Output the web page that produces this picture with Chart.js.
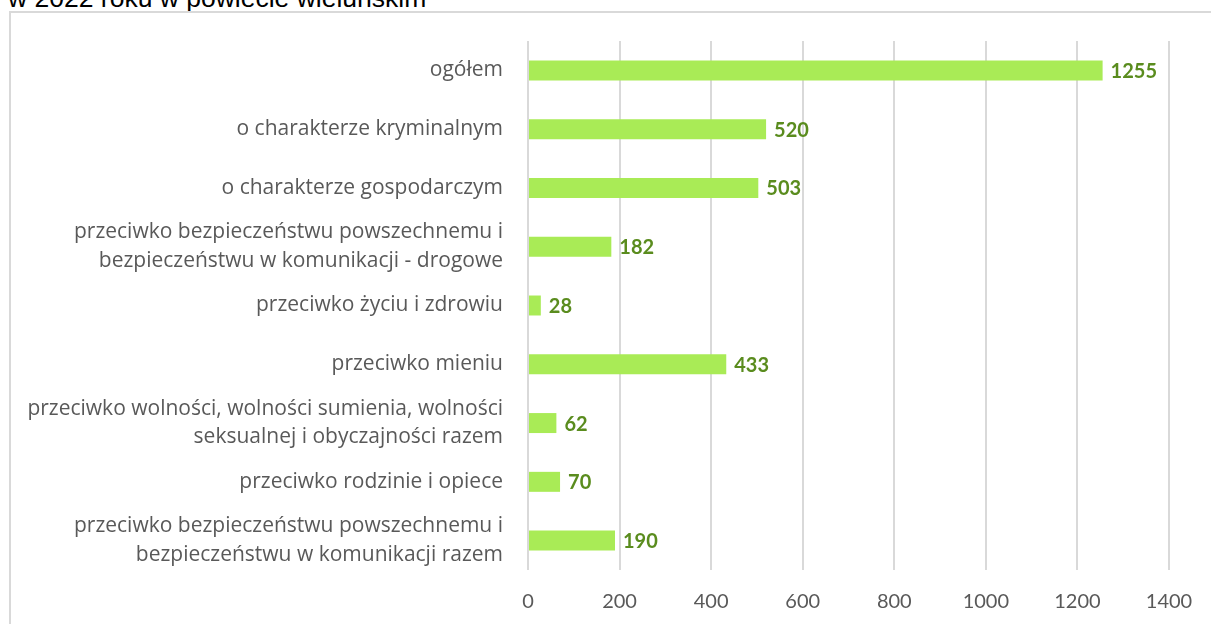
<!DOCTYPE html>
<html>
<head>
<meta charset="utf-8">
<script src="https://cdn.jsdelivr.net/npm/chart.js@4.4.1/dist/chart.umd.min.js"></script>
<style>
  html, body { margin: 0; padding: 0; background: #fff; width: 1211px; height: 624px; overflow: hidden; position: relative; }
  #frame { position: absolute; left: 9px; top: 11px; width: 1230px; height: 700px; border: 2px solid #d9d9d9; box-sizing: border-box; }
  #title { position: absolute; left: 8px; top: -17px; font-family: "Liberation Sans", Arial, sans-serif; font-size: 26.5px; color: #000; white-space: nowrap; }
  #c { position: absolute; left: 0; top: 0; }
</style>
</head>
<body>
<div id="title">w 2022 roku w powiecie wieluńskim</div>
<div id="frame"></div>
<canvas id="c" width="1211" height="624"></canvas>
<script>
const categories = [
  ["ogółem"],
  ["o charakterze kryminalnym"],
  ["o charakterze gospodarczym"],
  ["przeciwko bezpieczeństwu powszechnemu i", "bezpieczeństwu w komunikacji - drogowe"],
  ["przeciwko życiu i zdrowiu"],
  ["przeciwko mieniu"],
  ["przeciwko wolności, wolności sumienia, wolności", "seksualnej i obyczajności razem"],
  ["przeciwko rodzinie i opiece"],
  ["przeciwko bezpieczeństwu powszechnemu i", "bezpieczeństwu w komunikacji razem"]
];
const values = [1255, 520, 503, 182, 28, 433, 62, 70, 190];
const xTicks = [0, 200, 400, 600, 800, 1000, 1200, 1400];

const valueLabels = {
  id: 'valueLabels',
  afterDatasetsDraw(chart) {
    const ctx = chart.ctx;
    const meta = chart.getDatasetMeta(0);
    ctx.save();
    ctx.font = 'bold 20px Lato, "Open Sans", sans-serif';
    ctx.fillStyle = '#5a8c1e';
    ctx.textAlign = 'left';
    ctx.textBaseline = 'middle';
    meta.data.forEach((bar, i) => {
      ctx.fillText(String(values[i]), bar.x + 8, bar.y + 1);
    });
    ctx.restore();
  }
};

new Chart(document.getElementById('c'), {
  type: 'bar',
  data: {
    labels: categories,
    datasets: [{
      data: values,
      backgroundColor: '#a9eb56',
      borderWidth: 0,
      categoryPercentage: 1,
      barPercentage: 0.34
    }]
  },
  options: {
    indexAxis: 'y',
    responsive: false,
    animation: false,
    devicePixelRatio: 1,
    layout: { padding: { top: 41, right: 42, bottom: 0, left: 0 } },
    plugins: { legend: { display: false }, tooltip: { enabled: false } },
    scales: {
      x: {
        min: 0, max: 1400,
        afterBuildTicks(scale) { scale.ticks = xTicks.map(v => ({ value: v })); },
        afterFit(scale) { scale.height = 54; scale.paddingLeft = 0; scale.paddingRight = 0; },
        grid: { color: '#d9d9d9', lineWidth: 2, drawTicks: false },
        border: { display: false },
        ticks: {
          padding: 20,
          autoSkip: false,
          maxRotation: 0,
          color: '#595959',
          font: { family: 'Lato, "Open Sans", sans-serif', size: 20 },
          callback: (v) => String(v)
        }
      },
      y: {
        afterFit(scale) { scale.width = 528; scale.paddingTop = 0; scale.paddingBottom = 0; },
        grid: { display: false, drawTicks: false },
        border: { display: false },
        ticks: {
          padding: 25,
          autoSkip: false,
          color: '#595959',
          font: { family: '"Open Sans", sans-serif', size: 21, lineHeight: 1.36 }
        }
      }
    }
  },
  plugins: [valueLabels]
});
</script>
</body>
</html>
